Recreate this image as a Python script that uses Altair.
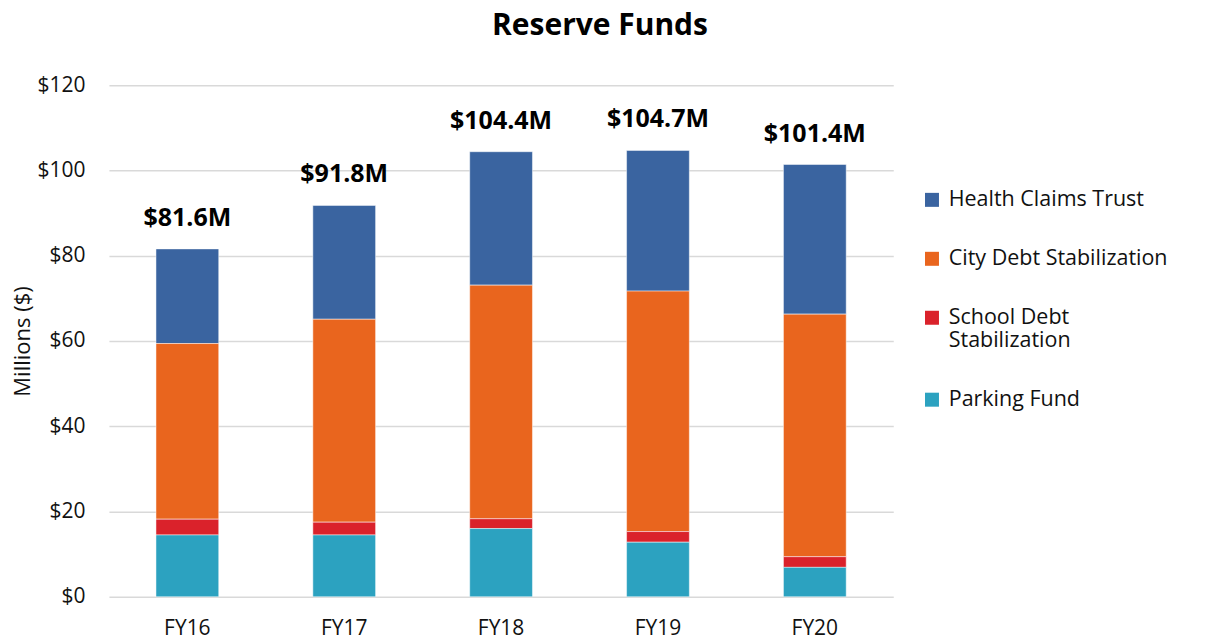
import altair as alt
import pandas as pd

years = ["FY16", "FY17", "FY18", "FY19", "FY20"]
series = ["Health Claims Trust", "City Debt Stabilization",
          "School Debt Stabilization", "Parking Fund"]
health = [22.2, 26.7, 31.3, 33.0, 35.1]
city = [41.2, 47.6, 54.8, 56.4, 56.9]
school = [3.7, 3.0, 2.3, 2.5, 2.5]
parking = [14.5, 14.5, 16.0, 12.8, 6.9]
totals = [81.6, 91.8, 104.4, 104.7, 101.4]
colors = ["#3A64A0", "#E9651E", "#DA222B", "#2CA2C0"]
stack_rank = [4, 3, 2, 1]

rows = []
for i, yr in enumerate(years):
    for s, vals, rk in zip(series, [health, city, school, parking], stack_rank):
        rows.append({"year": yr, "series": s, "value": vals[i], "rank": rk})
df = pd.DataFrame(rows)
tot = pd.DataFrame({"year": years, "total": totals,
                    "label": [f"${t:.1f}M" for t in totals]})

FONT = "Open Sans"

x = alt.X("year:N", title=None, sort=years,
          scale=alt.Scale(paddingInner=0.6, paddingOuter=0.3),
          axis=alt.Axis(labelAngle=0, labelFontSize=21, labelPadding=21,
                        ticks=False, tickSize=0, domain=False, labelColor="#111"))

bars = alt.Chart(df).mark_bar(stroke="white", strokeWidth=0.8, strokeOpacity=0.6).encode(
    x=x,
    y=alt.Y("value:Q", stack="zero",
            scale=alt.Scale(domain=[0, 120], nice=False),
            axis=alt.Axis(values=[0, 20, 40, 60, 80, 100, 120], format="$.0f",
                          title="Millions ($)", titleFontSize=22,
                          titleFontWeight="normal", titlePadding=2,
                          labelFontSize=21, labelPadding=24, ticks=False, tickSize=0,
                          domain=False, gridColor="#d9d9d9", gridWidth=1.5,
                          labelColor="#111", titleColor="#111")),
    color=alt.Color("series:N",
                    scale=alt.Scale(domain=series, range=colors),
                    legend=alt.Legend(title=None, orient="none", legendX=813, legendY=104,
                                      symbolType="square", symbolSize=196,
                                      symbolStrokeWidth=0, labelFontSize=21.5,
                                      labelOffset=6, rowPadding=36, labelLimit=400,
                                      labelColor="#111",
                                      labelExpr="datum.label == 'School Debt Stabilization' ? ['School Debt', 'Stabilization'] : datum.label")),
    order=alt.Order("rank:Q", sort="ascending"),
)

labels = alt.Chart(tot).mark_text(fontSize=25, fontWeight="bold", dy=-31,
                                  baseline="middle", color="#000", font=FONT).encode(
    x=alt.X("year:N", sort=years),
    y=alt.Y("total:Q"),
    text="label:N",
)

chart = alt.layer(bars, labels).properties(
    width=785, height=512,
    padding={"left": 101, "top": 77, "right": 307, "bottom": 50},
    autosize="none",
    title=alt.Title("Reserve Funds", fontSize=30, fontWeight="bold", font=FONT,
                    anchor="middle", dx=99, offset=33, color="#000"),
).configure(font=FONT).configure_view(stroke=None)

chart.save("out.html", embed_options={"renderer": "svg", "actions": False})
